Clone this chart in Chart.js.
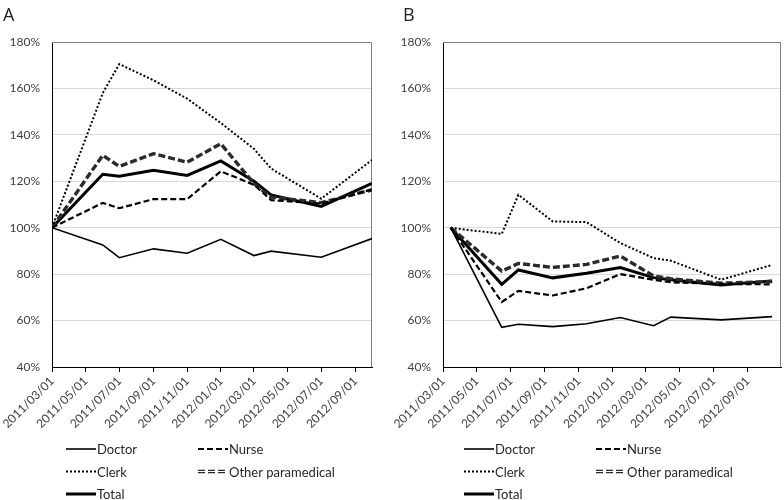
<!DOCTYPE html>
<html>
<head>
<meta charset="utf-8">
<script src="https://cdn.jsdelivr.net/npm/chart.js@4.4.0/dist/chart.umd.min.js"></script>
<style>
  body { margin: 0; background: #fff; }
  .panel { position: absolute; top: 0; width: 392px; height: 500px; }
  .letra { position: absolute; top: 2px; font: 18px "Open Sans", sans-serif; color: #222; }
</style>
</head>
<body>
<div class="panel" style="left:0"><canvas id="grafico-a" width="392" height="500"></canvas><div class="letra" style="left:3px">A</div></div>
<div class="panel" style="left:392px"><canvas id="grafico-b" width="392" height="500"></canvas><div class="letra" style="left:11px">B</div></div>
<script>
// datas (dias) de cada painel
const datasA = ['2011/03/01', '2011/06/01', '2011/07/01', '2011/09/01', '2011/11/01', '2012/01/01', '2012/03/01', '2012/04/01', '2012/07/01', '2012/10/01'];
const datasB = ['2011/03/15', '2011/06/15', '2011/07/15', '2011/09/15', '2011/11/15', '2012/01/15', '2012/03/15', '2012/04/15', '2012/07/15', '2012/10/15'];
const rotulosX = ['2011/03/01', '2011/05/01', '2011/07/01', '2011/09/01', '2011/11/01', '2012/01/01', '2012/03/01', '2012/05/01', '2012/07/01', '2012/09/01'];
const inicioX = '2011/03/01';
const fimA = '2012/10/01';
const fimB = '2012/10/31';
const rotulosY = [40, 60, 80, 100, 120, 140, 160, 180];

// painel A (%)
const doctorA = [100, 92.6, 87.1, 90.9, 89.0, 95.0, 88.0, 89.9, 87.3, 95.3];
const nurseA  = [100, 110.7, 108.4, 112.3, 112.3, 124.3, 118.5, 111.9, 110.4, 116.5];
const clerkA  = [100, 158.0, 170.5, 163.5, 155.6, 145.1, 134.0, 125.5, 112.5, 129.2];
const otherA  = [100, 131.2, 126.4, 131.9, 128.2, 136.2, 119.0, 113.2, 110.8, 116.3];
const totalA  = [100, 123.0, 122.2, 124.7, 122.5, 128.8, 120.0, 114.1, 109.2, 119.1];

// painel B (%)
const doctorB = [100, 57.1, 58.4, 57.4, 58.6, 61.3, 57.8, 61.5, 60.3, 61.7];
const nurseB  = [100, 68.0, 72.8, 70.8, 73.9, 80.0, 77.6, 76.5, 75.8, 75.6];
const clerkB  = [100, 97.3, 114.2, 102.7, 102.4, 93.4, 86.9, 85.8, 77.6, 84.0];
const otherB  = [100, 81.3, 84.6, 82.9, 84.2, 87.8, 79.2, 78.0, 76.1, 76.8];
const totalB  = [100, 75.6, 81.8, 78.4, 80.4, 82.8, 78.5, 77.6, 75.3, 77.1];

function dia(s) {
  const p = s.split('/').map(Number);
  return Date.UTC(p[0], p[1] - 1, p[2]) / 86400000;
}

const fonte = '"Lato", "Open Sans", sans-serif';

// moldura cinza + legenda desenhada à mão
const molduraLegenda = {
  id: 'molduraLegenda',
  beforeDatasetsDraw(c) {
    const a = c.chartArea, ctx = c.ctx;
    ctx.save();
    ctx.strokeStyle = '#7f7f7f';
    ctx.lineWidth = 1;
    ctx.beginPath();
    ctx.moveTo(a.left, a.top + 0.5);
    ctx.lineTo(a.right - 0.5, a.top + 0.5);
    ctx.lineTo(a.right - 0.5, a.bottom);
    ctx.stroke();
    ctx.restore();
  },
  afterDraw(c, args, opts) {
    const ctx = c.ctx;
    ctx.save();
    ctx.font = '13px ' + fonte;
    ctx.textBaseline = 'middle';
    ctx.fillStyle = '#262626';
    const itens = c.data.datasets.filter(d => !d.semLegenda);
    itens.forEach((d, i) => {
      const x = opts.x + (i % 2) * 132;
      const y = opts.y + Math.floor(i / 2) * 22.5;
      const camadas = [d].concat(c.data.datasets.filter(e => e.par === d.label));
      camadas.forEach(e => {
        ctx.strokeStyle = e.borderColor;
        ctx.lineWidth = e.borderWidth;
        ctx.setLineDash(e.borderDash || []);
        ctx.beginPath();
        ctx.moveTo(x, y);
        ctx.lineTo(x + 30, y);
        ctx.stroke();
      });
      ctx.setLineDash([]);
      ctx.fillText(d.label, x + 31, y + 1);
    });
    ctx.restore();
  }
};

function montar(id, datas, series, fim, larguraY, direita, legX) {
  const xs = datas.map(dia);
  const pontos = v => v.map((y, i) => ({x: xs[i], y: y}));
  new Chart(document.getElementById(id), {
    type: 'line',
    data: {
      datasets: [
        {label: 'Doctor', data: pontos(series[0]), borderColor: '#000', borderWidth: 1.6},
        {label: 'Nurse', data: pontos(series[1]), borderColor: '#000', borderWidth: 2.2, borderDash: [6, 3]},
        {label: 'Clerk', data: pontos(series[2]), borderColor: '#000', borderWidth: 2, borderDash: [2, 2]},
        {label: 'Other paramedical', data: pontos(series[3]), borderColor: '#2a2a2a', borderWidth: 3.4, borderDash: [7, 3]},
        {label: 'Total', data: pontos(series[4]), borderColor: '#000', borderWidth: 3},
        {label: 'inner', par: 'Other paramedical', semLegenda: true, data: pontos(series[3]), borderColor: '#fff', borderWidth: 1.1, borderDash: [7, 3]}
      ]
    },
    options: {
      responsive: false,
      animation: false,
      elements: {point: {radius: 0}, line: {tension: 0}},
      layout: {padding: {top: 42, right: direita, bottom: 0, left: 0}},
      scales: {
        x: {
          type: 'linear',
          min: dia(inicioX),
          max: dia(fim),
          afterBuildTicks: s => { s.ticks = rotulosX.map(d => ({value: dia(d)})); },
          afterFit: s => { s.height = 133; },
          grid: {drawOnChartArea: false, drawTicks: true, tickLength: 5, color: '#000'},
          border: {color: '#000', width: 1},
          ticks: {
            autoSkip: false, maxRotation: 45, minRotation: 45, padding: 2,
            color: '#404040', font: {family: fonte, size: 12},
            callback: (v, i) => rotulosX[i]
          }
        },
        y: {
          min: rotulosY[0],
          max: rotulosY[rotulosY.length - 1],
          afterBuildTicks: s => { s.ticks = rotulosY.map(v => ({value: v})); },
          afterFit: s => { s.width = larguraY; },
          grid: {color: '#d9d9d9', drawTicks: false},
          border: {color: '#000', width: 1},
          ticks: {padding: 12, color: '#404040', font: {family: fonte, size: 12}, callback: v => v + '%'}
        }
      },
      plugins: {
        legend: {display: false},
        tooltip: {enabled: false},
        molduraLegenda: {x: legX, y: 449}
      }
    },
    plugins: [molduraLegenda]
  });
}

montar('grafico-a', datasA, [doctorA, nurseA, clerkA, otherA, totalA], fimA, 52, 20, 66);
montar('grafico-b', datasB, [doctorB, nurseB, clerkB, otherB, totalB], fimB, 51, 3, 72);
</script>
</body>
</html>
